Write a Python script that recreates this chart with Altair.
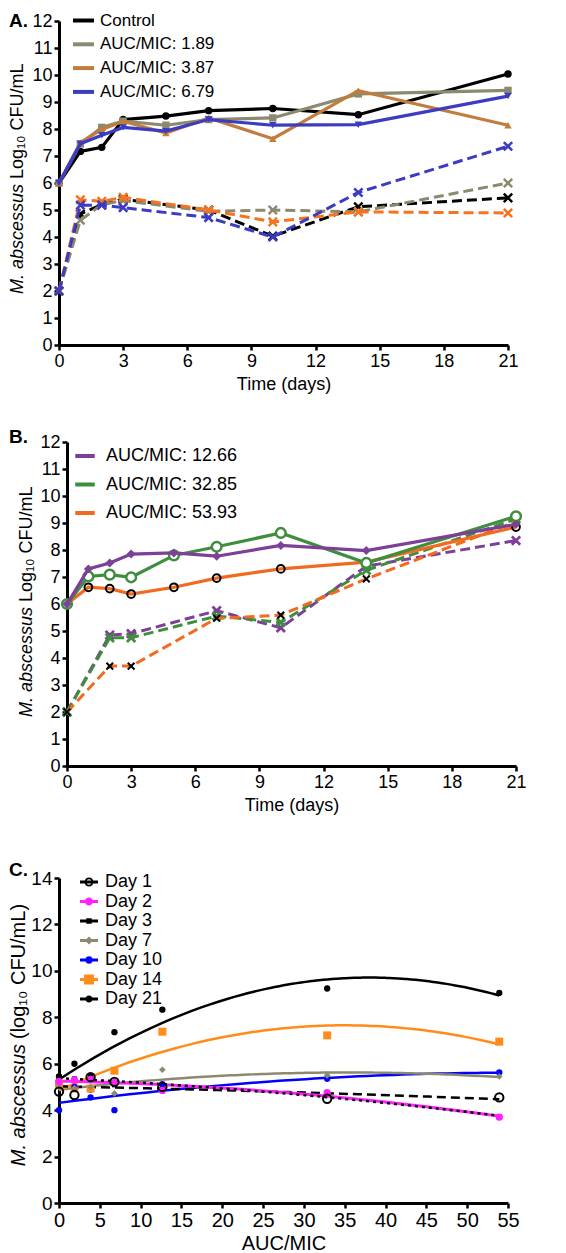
import altair as alt
import pandas as pd

FONT = "Liberation Sans"

# ---------------- Panel A data ----------------
A_SERIES = ["Control", "AUC/MIC: 1.89", "AUC/MIC: 3.87", "AUC/MIC: 6.79"]
A_COLORS = ["#000000", "#8c8a6e", "#c27c3c", "#3b3bc4"]
A_DASH_COLORS = ["#000000", "#8c8a6e", "#f7731f", "#3b3bc4"]
A_SHAPES = ["circle", "square", "triangle-up", "triangle-down"]
A_DAYS_SOLID = [0, 1, 2, 3, 5, 7, 10, 14, 21]
A_SOLID_CONTROL = [6.0, 7.17, 7.32, 8.35, 8.48, 8.68, 8.76, 8.53, 10.04]
A_SOLID_189 = [6.0, 7.45, 8.06, 8.29, 8.14, 8.35, 8.41, 9.30, 9.43]
A_SOLID_387 = [6.0, 7.50, 7.98, 8.29, 7.85, 8.41, 7.64, 9.42, 8.14]
A_SOLID_679 = [6.0, 7.45, 7.77, 8.06, 7.92, 8.35, 8.14, 8.16, 9.22]
A_DAYS_DASHED = [0, 1, 2, 3, 7, 10, 14, 21]
A_DASH_CONTROL = [2.0, 4.85, 5.20, 5.40, 5.00, 4.03, 5.12, 5.45]
A_DASH_189 = [2.0, 4.62, 5.20, 5.35, 4.95, 5.00, 4.93, 6.00]
A_DASH_387 = [2.0, 5.38, 5.32, 5.47, 5.00, 4.56, 4.93, 4.89]
A_DASH_679 = [2.0, 5.18, 5.18, 5.09, 4.72, 4.00, 5.65, 7.36]

# ---------------- Panel B data ----------------
B_SERIES = ["AUC/MIC: 12.66", "AUC/MIC: 32.85", "AUC/MIC: 53.93"]
B_COLORS = ["#7d3f98", "#3e8e3e", "#f26a1f"]
B_DAYS_SOLID = [0, 1, 2, 3, 5, 7, 10, 14, 21]
B_SOLID_1266 = [6.0, 7.30, 7.52, 7.85, 7.89, 7.77, 8.17, 7.98, 8.95]
B_SOLID_3285 = [6.0, 7.02, 7.09, 6.99, 7.80, 8.12, 8.63, 7.52, 9.25]
B_SOLID_5393 = [6.0, 6.62, 6.57, 6.37, 6.62, 6.96, 7.30, 7.55, 8.85]
B_DAYS_DASHED = [0, 2, 3, 7, 10, 14, 21]
B_DASH_1266 = [2.0, 4.85, 4.90, 5.75, 5.12, 7.40, 8.35]
B_DASH_3285 = [2.0, 4.75, 4.75, 5.55, 5.32, 7.25, 9.15]
B_DASH_5393 = [2.0, 3.70, 3.70, 5.47, 5.59, 6.93, 9.05]

# ---------------- Panel C data ----------------
C_AUC = [0, 1.89, 3.87, 6.79, 12.66, 32.85, 53.93]
C_DAYS = ["Day 1", "Day 2", "Day 3", "Day 7", "Day 10", "Day 14", "Day 21"]
C_COLORS = ["#000000", "#ff22ff", "#000000", "#8c8a6e", "#0000ff", "#ff8c1a", "#000000"]
C_DAY1 = [4.80, 4.65, 5.42, 5.22, 5.00, 4.49, 4.55]
C_DAY2 = [5.22, 5.30, 5.32, 5.18, 4.85, 4.75, 3.70]
C_DAY3 = [5.45, 5.35, 5.47, 5.09, 4.90, 4.75, 3.70]
C_DAY7 = [5.00, 4.95, 5.00, 4.72, 5.74, 5.50, 5.45]
C_DAY10 = [4.00, 5.00, 4.55, 4.00, 5.12, 5.35, 5.62]
C_DAY14 = [5.14, 4.93, 4.93, 5.70, 7.38, 7.22, 6.95]
C_DAY21 = [5.45, 6.00, 4.89, 7.36, 8.33, 9.24, 9.05]

XMARK = "M-1,-1L1,1M-1,1L1,-1"
one = pd.DataFrame({"k": [0]})


def long_df(days, series_names, value_lists, key):
    rows = []
    for s, vals in zip(series_names, value_lists):
        for d, v in zip(days, vals):
            rows.append({"x": d, "y": v, key: s})
    return pd.DataFrame(rows)


def axis(values, title, fs, tpad=5, offset=0):
    kw = dict(values=values, format="d", labelFontSize=fs, tickSize=5, tickWidth=2.5,
              domainWidth=3, labelPadding=2, labelFlush=False, labelOverlap=False,
              grid=False, labelColor="black", domainColor="black", tickColor="black",
              offset=offset)
    if title:
        kw.update(title=title, titleFontSize=fs, titleFontWeight="normal",
                  titlePadding=tpad, titleColor="black")
    else:
        kw.update(title=None)
    return alt.Axis(**kw)


def enc(xs, ys, xa, ya):
    return dict(x=alt.X("x:Q", scale=xs, axis=xa), y=alt.Y("y:Q", scale=ys, axis=ya))


def txt(text, x, y, size, **kw):
    return alt.Chart(one).mark_text(text=text, fontSize=size, font=FONT, color="black", **kw).encode(
        x=alt.value(x), y=alt.value(y))


def ytitle(ital, rest, x, p, size):
    return [
        txt(ital, x, p + 3, size, angle=270, align="right", baseline="middle", fontStyle="italic"),
        txt(rest, x, p - 2, size, angle=270, align="left", baseline="middle"),
    ]


W, H = 449, 324

# ---------------- Panel A ----------------
dfA_s = long_df(A_DAYS_SOLID, A_SERIES, [A_SOLID_CONTROL, A_SOLID_189, A_SOLID_387, A_SOLID_679], "sA")
dfA_d = long_df(A_DAYS_DASHED, A_SERIES, [A_DASH_CONTROL, A_DASH_189, A_DASH_387, A_DASH_679], "sA")
xsA = alt.Scale(domain=[0, 21], nice=False)
ysA = alt.Scale(domain=[0, 12], nice=False)
xaA = axis(list(range(0, 22, 3)), "Time (days)", 18)
yaA = axis(list(range(0, 13)), None, 18)
eA = enc(xsA, ysA, xaA, yaA)

layersA = [
    alt.Chart(dfA_s).transform_filter("datum.x < -100").mark_line(strokeWidth=4).encode(
        color=alt.Color("sA:N", scale=alt.Scale(domain=A_SERIES, range=A_COLORS),
                        legend=alt.Legend(title=None, orient="none", legendX=12, legendY=-13,
                                          symbolType="stroke", symbolStrokeWidth=4, symbolSize=441,
                                          labelFontSize=17, labelFont=FONT, labelColor="black",
                                          labelOffset=4, rowPadding=2.8, padding=0, labelLimit=400)),
        **eA)
]
for s, c in zip(A_SERIES, A_DASH_COLORS):
    sub = alt.Chart(dfA_d).transform_filter(alt.datum.sA == s)
    layersA.append(sub.mark_line(color=c, strokeWidth=3, strokeDash=[10, 5]).encode(**eA))
    layersA.append(sub.mark_point(shape=XMARK, filled=False, color=c, strokeWidth=2.5, size=70, opacity=1).encode(**eA))
for s, c, sh in zip(A_SERIES, A_COLORS, A_SHAPES):
    sub = alt.Chart(dfA_s).transform_filter(alt.datum.sA == s)
    layersA.append(sub.mark_line(color=c, strokeWidth=3.2).encode(**eA))
    layersA.append(sub.mark_point(shape=sh, filled=True, color=c, size=55, opacity=1).encode(**eA))
layersA.append(txt("A.", -50, -9, 19, fontWeight="bold", align="left", baseline="top"))
layersA += ytitle("M. abscessus", "Log\u2081\u2080 CFU/mL", -41, 160, 18)
chartA = alt.layer(*layersA).properties(width=W, height=H)

# ---------------- Panel B (plot area shifted 8px right inside its view) ----------------
BX = 8
dfB_s = long_df(B_DAYS_SOLID, B_SERIES, [B_SOLID_1266, B_SOLID_3285, B_SOLID_5393], "sB")
dfB_d = long_df(B_DAYS_DASHED, B_SERIES, [B_DASH_1266, B_DASH_3285, B_DASH_5393], "sB")
xsB = alt.Scale(domain=[0, 21], nice=False, range=[BX, W + BX])
ysB = alt.Scale(domain=[0, 12], nice=False)
xaB = axis(list(range(0, 22, 3)), "Time (days)", 18)
yaB = axis(list(range(0, 13)), None, 18, offset=-BX)
eB = enc(xsB, ysB, xaB, yaB)

layersB = [
    alt.Chart(dfB_s).transform_filter("datum.x < -100").mark_line(strokeWidth=4).encode(
        color=alt.Color("sB:N", scale=alt.Scale(domain=B_SERIES, range=B_COLORS),
                        legend=alt.Legend(title=None, orient="none", legendX=14, legendY=2,
                                          symbolType="stroke", symbolStrokeWidth=4, symbolSize=380,
                                          labelFontSize=18, labelFont=FONT, labelColor="black",
                                          labelOffset=9, rowPadding=7.5, padding=0, labelLimit=400)),
        **eB)
]
B_DASH_MARK = [("#7d3f98", 2.8, 70), ("#3e8e3e", 2.8, 70), ("#000000", 2.0, 45)]
for s, c, (mc, mw, ms) in zip(B_SERIES, B_COLORS, B_DASH_MARK):
    sub = alt.Chart(dfB_d).transform_filter(alt.datum.sB == s)
    layersB.append(sub.mark_line(color=c, strokeWidth=3, strokeDash=[10, 5]).encode(**eB))
    layersB.append(sub.mark_point(shape=XMARK, filled=False, color=mc, strokeWidth=mw, size=ms, opacity=1).encode(**eB))
subP = alt.Chart(dfB_s).transform_filter(alt.datum.sB == B_SERIES[0])
subG = alt.Chart(dfB_s).transform_filter(alt.datum.sB == B_SERIES[1])
subO = alt.Chart(dfB_s).transform_filter(alt.datum.sB == B_SERIES[2])
layersB += [
    subO.mark_line(color=B_COLORS[2], strokeWidth=3.2).encode(**eB),
    subO.mark_point(shape="circle", filled=False, color="black", strokeWidth=2, size=60, opacity=1).encode(**eB),
    subG.mark_line(color=B_COLORS[1], strokeWidth=3.2).encode(**eB),
    subG.mark_point(shape="circle", filled=True, fill="white", stroke=B_COLORS[1], strokeWidth=2.5,
                    size=95, opacity=1).encode(**eB),
    subP.mark_line(color=B_COLORS[0], strokeWidth=3.2).encode(**eB),
    subP.mark_point(shape="diamond", filled=True, color=B_COLORS[0], size=80, opacity=1).encode(**eB),
]
layersB.append(txt("B.", -50, -14, 19, fontWeight="bold", align="left", baseline="top"))
layersB += ytitle("M. abscessus", "Log\u2081\u2080 CFU/mL", -32, 162, 18)
chartB = alt.layer(*layersB).properties(width=W + BX, height=H)

# ---------------- Panel C ----------------
dfC = long_df(C_AUC, C_DAYS, [C_DAY1, C_DAY2, C_DAY3, C_DAY7, C_DAY10, C_DAY14, C_DAY21], "sC")
xsC = alt.Scale(domain=[0, 55], nice=False)
ysC = alt.Scale(domain=[0, 14], nice=False)
xaC = axis(list(range(0, 56, 5)), "AUC/MIC", 20, tpad=3)
yaC = axis(list(range(0, 15, 2)), None, 19)
eC = enc(xsC, ysC, xaC, yaC)

BAR = "M-1,-0.18H1V0.18H-1Z"


def circ(r, sweep=1):
    return f"M{r},0A{r},{r} 0 1 {sweep} -{r},0A{r},{r} 0 1 {sweep} {r},0Z"


def sq(h):
    return f"M-{h},-{h}H{h}V{h}H-{h}Z"


def dia(h):
    return f"M-{h},0L0,-{h}L{h},0L0,{h}Z"


C_LEG_PATHS = [
    BAR + circ(0.5) + circ(0.3, 0),
    BAR + circ(0.45),
    BAR + sq(0.3),
    BAR + dia(0.45),
    BAR + circ(0.42),
    BAR + sq(0.55),
    BAR + circ(0.4),
]
legC = alt.Legend(title=None, orient="none", legendX=21, legendY=-5, symbolSize=324,
                  symbolStrokeWidth=0, labelFontSize=18, labelFont=FONT, labelColor="black",
                  labelOffset=7, rowPadding=1.5, padding=0, labelLimit=400)
layersC = [
    alt.Chart(dfC).transform_filter("datum.x < -100").mark_point(filled=True, size=324, opacity=1).encode(
        color=alt.Color("sC:N", scale=alt.Scale(domain=C_DAYS, range=C_COLORS), legend=legC),
        shape=alt.Shape("sC:N", scale=alt.Scale(domain=C_DAYS, range=C_LEG_PATHS), legend=legC),
        **eC)
]
C_LINE_STYLE = {
    "Day 21": dict(strokeWidth=2.5),
    "Day 14": dict(strokeWidth=2.5),
    "Day 7": dict(strokeWidth=2.5),
    "Day 10": dict(strokeWidth=2.5),
    "Day 1": dict(strokeWidth=2.5, strokeDash=[9, 5]),
    "Day 2": dict(strokeWidth=3),
    "Day 3": dict(strokeWidth=2.5, strokeDash=[3, 4]),
}
C_LINE_ORDER = ["Day 10", "Day 7", "Day 14", "Day 21", "Day 1", "Day 2", "Day 3"]
colmap = dict(zip(C_DAYS, C_COLORS))
for d in C_LINE_ORDER:
    layersC.append(
        alt.Chart(dfC).transform_filter(alt.datum.sC == d)
        .transform_regression("x", "y", method="poly", order=2)
        .mark_line(color=colmap[d], **C_LINE_STYLE[d]).encode(**eC))
C_POINT_STYLE = {
    "Day 21": dict(shape="circle", filled=True, size=40),
    "Day 14": dict(shape="square", filled=True, size=64),
    "Day 10": dict(shape="circle", filled=True, size=40),
    "Day 7": dict(shape="diamond", filled=True, size=45),
    "Day 3": dict(shape="square", filled=True, size=25),
    "Day 2": dict(shape="circle", filled=True, size=55),
    "Day 1": dict(shape="circle", filled=False, size=70, strokeWidth=2),
}
for d in ["Day 21", "Day 14", "Day 10", "Day 7", "Day 3", "Day 2", "Day 1"]:
    layersC.append(
        alt.Chart(dfC).transform_filter(alt.datum.sC == d)
        .mark_point(color=colmap[d], opacity=1, **C_POINT_STYLE[d]).encode(**eC))
layersC.append(txt("C.", -50, -17, 19, fontWeight="bold", align="left", baseline="top"))
layersC += ytitle("M. abscessus", "(log\u2081\u2080 CFU/mL)", -40, 163, 20)
chartC = alt.layer(*layersC).properties(width=W, height=H + 1)

inner = alt.concat(chartA, chartB, columns=1, spacing=35).resolve_scale(
    color="independent", shape="independent")
chart = alt.concat(inner, chartC, columns=1, spacing=47).resolve_scale(
    color="independent", shape="independent"
).configure(font=FONT, padding=0).configure_view(stroke=None)

chart.save("out.html", embed_options={"renderer": "svg", "actions": False})
